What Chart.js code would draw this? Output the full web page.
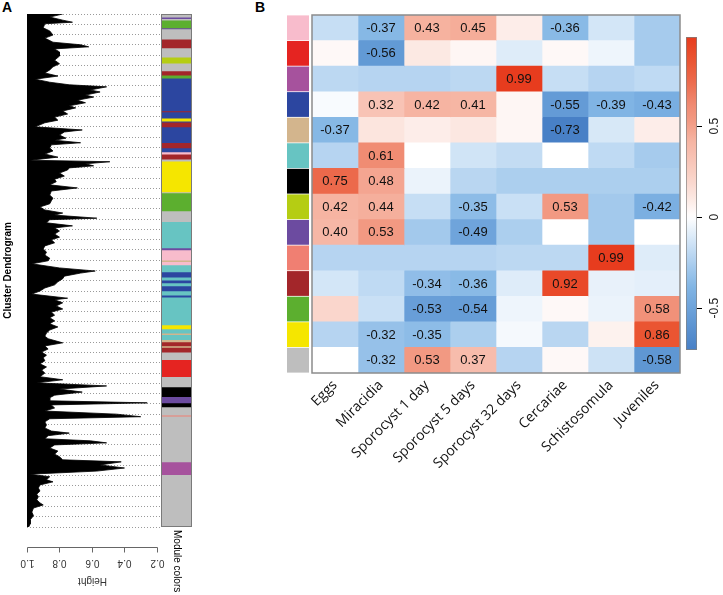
<!DOCTYPE html>
<html><head><meta charset="utf-8"><title>Cluster dendrogram and module-stage correlations</title>
<script src="https://cdn.jsdelivr.net/npm/chart.js"></script>
<style>
html,body{margin:0;padding:0;background:#fff;}
body{width:723px;height:595px;position:relative;overflow:hidden;font-family:"Liberation Sans",Arial,sans-serif;}
canvas{position:absolute;}
.plabel{position:absolute;font-weight:bold;font-size:14px;line-height:14px;color:#000;}
</style></head><body>
<div class="plabel" style="left:2px;top:0px">A</div>
<div class="plabel" style="left:255px;top:0px">B</div>
<canvas id="dendro" width="200" height="595" style="left:0;top:0"></canvas>
<canvas id="modbar" width="50" height="595" style="left:150px;top:0"></canvas>
<canvas id="swatch" width="40" height="400" style="left:280px;top:0"></canvas>
<canvas id="heat" width="440" height="595" style="left:250px;top:0"></canvas>
<canvas id="legend" width="47" height="595" style="left:676px;top:0"></canvas>
<script>
// ---------------- DATA ----------------
// Panel A: dendrogram silhouette (leaf order position 0..1000, branch height)
const dendroLeaf = [
  0,6,12,16,19,27,33,41,47,55,
  60,64,68,74,82,90,97,103,109,115,
  121,127,133,138,142,148,152,158,162,168,
  173,179,183,189,195,201,207,212,220,
  226,230,236,242,246,251,255,261,267,273,
  279,285,288,292,296,300,304,310,316,322,
  327,333,339,345,353,359,364,370,376,382,
  388,392,398,401,407,413,417,423,429,435,
  440,446,452,458,464,470,476,481,487,495,
  501,505,511,516,522,528,534,540,546,554,
  557,563,569,575,581,587,592,598,604,610,
  616,622,628,633,641,647,653,659,665,670,
  676,682,688,694,700,707,713,719,725,731,
  737,743,748,754,758,762,768,774,780,785,
  789,795,801,807,813,817,822,828,832,836,
  840,846,852,858,863,869,873,879,885,891,
  897,902,908,912,918,924,930,936,941,947,
  953,957,963,971,978,986,994,1000];
const dendroHeight = [
  0.78,0.86,0.78,0.72,0.89,0.90,0.86,0.84,0.89,0.84,
  0.67,0.62,0.83,0.80,0.80,0.83,0.80,0.84,0.86,0.89,
  0.81,0.95,0.86,0.74,0.51,0.61,0.55,0.64,0.59,0.69,
  0.64,0.74,0.70,0.78,0.75,0.83,0.81,0.89,0.95,
  0.66,0.77,0.80,0.76,0.83,0.67,0.85,0.86,0.84,0.89,
  0.81,0.98,0.49,0.64,0.59,0.74,0.75,0.80,0.77,0.83,
  0.82,0.86,0.69,0.85,0.86,0.84,0.85,0.86,0.92,0.89,
  0.78,0.83,0.57,0.86,0.88,0.72,0.83,0.80,0.83,0.80,
  0.85,0.83,0.89,0.90,0.88,0.89,0.86,0.87,0.97,0.80,
  0.58,0.67,0.77,0.78,0.81,0.83,0.89,0.92,0.97,0.75,
  0.83,0.78,0.82,0.78,0.85,0.83,0.86,0.83,0.86,0.81,
  0.86,0.88,0.89,0.87,0.78,0.89,0.87,0.91,0.88,0.90,
  0.89,0.92,0.88,0.91,0.89,0.92,0.78,0.94,0.51,0.80,
  0.66,0.83,0.86,0.86,0.26,0.85,0.83,0.89,0.45,0.30,
  0.86,0.89,0.88,0.89,0.85,0.74,0.87,0.89,0.61,0.51,
  0.83,0.86,0.81,0.83,0.80,0.78,0.42,0.55,0.40,0.57,
  0.98,0.86,0.88,0.84,0.92,0.93,0.92,0.94,0.93,0.94,
  0.92,0.90,0.96,0.97,0.96,0.98,0.98,0.99];
const heightTicks = [1.0, 0.8, 0.6, 0.4, 0.2];

// Panel A: module colour strip (segments along leaf order)
const colorBarModule = ['grey','purple','grey','green','purple','grey','brown','grey','greenyellow','grey',
  'brown','green','blue','brown','blue','yellow','blue','brown','blue','brown',
  'blue','pink','brown','grey','yellow','grey','green','grey','turquoise','purple',
  'pink','tan','pink','turquoise','blue','turquoise','blue','turquoise','blue','turquoise',
  'blue','turquoise','yellow','turquoise','tan','turquoise','tan','brown','tan','brown',
  'grey','red','grey','black','purple','black','grey','salmon','grey','magenta','grey'];
const colorBarStart = [0,6,9,12,27,29,49,66,84,96,
  111,119,125,189,191,203,209,211,220,251,
  261,269,273,283,287,347,349,384,405,456,
  460,480,483,489,503,513,519,524,530,540,
  548,552,606,614,622,625,635,639,647,650,
  659,674,707,727,746,758,766,782,784,873,898];
const colorBarEnd = [6,9,12,27,29,49,66,84,96,111,
  119,125,189,191,203,209,211,220,251,261,
  269,273,283,287,347,349,384,405,456,460,
  480,483,489,503,513,519,524,530,540,548,
  552,606,614,622,625,635,639,647,650,659,
  674,707,727,746,758,766,782,784,873,898,1000];

// Panel B: module-stage correlations
const samples = ['Eggs','Miracidia','Sporocyst 1 day','Sporocyst 5 days','Sporocyst 32 days','Cercariae','Schistosomula','Juveniles'];
const modules = ['pink','red','magenta','blue','tan','turquoise','black','greenyellow','purple','salmon','brown','green','yellow','grey'];
const corrPink        = [-0.17,-0.37, 0.43, 0.45, 0.08,-0.36,-0.13,-0.27];
const corrRed         = [ 0.03,-0.56, 0.10, 0.04,-0.10, 0.03,-0.05,-0.27];
const corrMagenta     = [-0.20,-0.22,-0.22,-0.20, 0.99,-0.17,-0.22,-0.19];
const corrBlue        = [-0.02, 0.32, 0.42, 0.41, 0.04,-0.55,-0.39,-0.43];
const corrTan         = [-0.37, 0.12, 0.08, 0.11, 0.04,-0.73,-0.12, 0.08];
const corrTurquoise   = [-0.22, 0.61, 0.00,-0.14,-0.18, 0.00,-0.19,-0.27];
const corrBlack       = [ 0.75, 0.48,-0.06,-0.21,-0.25,-0.25,-0.25,-0.25];
const corrGreenyellow = [ 0.42, 0.44,-0.17,-0.35,-0.16, 0.53,-0.28,-0.42];
const corrPurple      = [ 0.40, 0.53,-0.28,-0.49,-0.25, 0.00,-0.28, 0.00];
const corrSalmon      = [-0.22,-0.22,-0.22,-0.22,-0.20,-0.20, 0.99,-0.10];
const corrBrown       = [-0.13,-0.19,-0.34,-0.36,-0.10, 0.92,-0.07,-0.08];
const corrGreen       = [ 0.20,-0.16,-0.53,-0.54,-0.05, 0.03,-0.06, 0.58];
const corrYellow      = [-0.22,-0.32,-0.35,-0.25,-0.03,-0.21, 0.06, 0.86];
const corrGrey        = [ 0.00,-0.32, 0.53, 0.37,-0.22, 0.03,-0.15,-0.58];
const legendTicks = [-0.5, 0, 0.5];

const corrRows = [corrPink,corrRed,corrMagenta,corrBlue,corrTan,corrTurquoise,corrBlack,
  corrGreenyellow,corrPurple,corrSalmon,corrBrown,corrGreen,corrYellow,corrGrey];

// ---------------- STYLE ----------------
const moduleHex = {grey:'#BEBEBE',purple:'#6C4BA0',green:'#5CAF2F',brown:'#A3262A',greenyellow:'#B5CD13',
  blue:'#2C46A0',yellow:'#F5E600',pink:'#F8BCCC',turquoise:'#67C4C2',tan:'#D3B58D',red:'#E52421',
  black:'#000000',salmon:'#F07F72',magenta:'#A6529D'};
const negStops = [[0,[255,255,255]],[0.2,[188,216,242]],[0.39,[128,180,228]],[0.55,[100,155,214]],[0.73,[72,128,198]],[1,[40,95,180]]];
const posStops = [[0,[255,255,255]],[0.1,[252,233,227]],[0.2,[250,214,204]],[0.42,[246,180,162]],[0.53,[242,153,130]],[0.61,[240,140,115]],[0.75,[236,105,75]],[0.86,[234,85,50]],[1,[231,58,28]]];
function colorFor(v){
  const stops = v < 0 ? negStops : posStops;
  const a = Math.abs(v);
  for (let k = 1; k < stops.length; k++){
    if (a <= stops[k][0]){
      const a0 = stops[k-1][0], c0 = stops[k-1][1], a1 = stops[k][0], c1 = stops[k][1];
      const t = (a - a0) / (a1 - a0);
      return 'rgb(' + c0.map((c,i)=>Math.round(c + (c1[i]-c)*t)).join(',') + ')';
    }
  }
  return 'rgb(' + stops[stops.length-1][1].join(',') + ')';
}

const FONT = '"Liberation Sans", Arial, Helvetica, sans-serif';
Chart.defaults.font.family = FONT;
Chart.defaults.color = '#000';
Chart.defaults.animation = false;
Chart.defaults.responsive = false;
Chart.defaults.plugins.legend.display = false;
Chart.defaults.plugins.tooltip.enabled = false;

// ---------------- PANEL A: dendrogram ----------------
const heightAxis = {
  id: 'heightAxis',
  afterDraw(chart){
    const {ctx, chartArea, scales:{x}} = chart;
    const y0 = Math.round(chartArea.bottom + 20) + 0.5;
    const xs = heightTicks.map(v => Math.round(x.getPixelForValue(v)) + 0.5);
    ctx.save();
    ctx.strokeStyle = '#666'; ctx.lineWidth = 1;
    ctx.beginPath();
    ctx.moveTo(Math.min(...xs), y0); ctx.lineTo(Math.max(...xs), y0);
    xs.forEach(px => { ctx.moveTo(px, y0); ctx.lineTo(px, y0 + 5); });
    ctx.stroke();
    ctx.fillStyle = '#333'; ctx.font = '10px ' + FONT;
    ctx.textAlign = 'center'; ctx.textBaseline = 'middle';
    heightTicks.forEach((v,i) => {
      ctx.save(); ctx.translate(xs[i], y0 + 15); ctx.rotate(Math.PI);
      ctx.fillText(v.toFixed(1), 0, 0); ctx.restore();
    });
    ctx.save(); ctx.translate((xs[0] + xs[xs.length-1]) / 2, y0 + 33); ctx.rotate(Math.PI);
    ctx.fillText('Height', 0, 0); ctx.restore();
    ctx.restore();
  }
};
new Chart(document.getElementById('dendro'), {
  type: 'line',
  data: { datasets: [{
    data: dendroLeaf.map((p,i) => ({x: dendroHeight[i], y: p})),
    borderColor: '#000', borderWidth: 0.8, backgroundColor: '#000',
    fill: {value: 1.0}, pointRadius: 0, tension: 0
  }]},
  options: {
    indexAxis: 'y',
    layout: {padding: {left: 0, right: 39, top: 14, bottom: 68}},
    plugins: {title: {display: true, text: 'Cluster Dendrogram', position: 'left',
      font: {size: 10, weight: 'bold'}, color: '#000', padding: {top: 2, bottom: 13}}},
    scales: {
      x: {type: 'linear', min: 0.175, max: 1.0, reverse: true, display: false},
      y: {type: 'linear', min: 0, max: 1000, reverse: true,
          ticks: {display: false, stepSize: 20},
          grid: {color: '#9a9a9a', lineWidth: 1, drawTicks: false},
          border: {display: false, dash: [1, 2]},
          afterFit(s){ s.width = 0; }}
    }
  },
  plugins: [heightAxis]
});

// ---------------- PANEL A: module colour strip ----------------
new Chart(document.getElementById('modbar'), {
  type: 'bar',
  data: { labels: ['Module colors'], datasets: colorBarModule.map((m,i) => ({
    data: [[colorBarStart[i], colorBarEnd[i]]], backgroundColor: moduleHex[m],
    borderWidth: 0, grouped: false, barPercentage: 1, categoryPercentage: 1 }))},
  options: {
    layout: {padding: {left: 11, right: 8, top: 14, bottom: 68}},
    scales: {x: {display: false}, y: {display: false, min: 0, max: 1000, reverse: true}}
  },
  plugins: [{ id: 'modFrame', afterDatasetsDraw(chart){
    const {ctx, chartArea: a} = chart;
    ctx.save();
    ctx.strokeStyle = '#7a7a7a'; ctx.lineWidth = 1;
    ctx.strokeRect(a.left + 0.5, a.top + 0.5, a.width - 1, a.height - 1);
    ctx.fillStyle = '#000'; ctx.font = '10px ' + FONT;
    ctx.translate((a.left + a.right) / 2, a.bottom + 3); ctx.rotate(Math.PI / 2);
    ctx.textAlign = 'left'; ctx.textBaseline = 'middle';
    ctx.fillText('Module colors', 0, 0);
    ctx.restore();
  }}]
});

// ---------------- PANEL B: module swatches ----------------
new Chart(document.getElementById('swatch'), {
  type: 'bar',
  data: { labels: modules, datasets: [{
    data: modules.map(() => 1), backgroundColor: modules.map(m => moduleHex[m]),
    borderWidth: 0, barPercentage: 1, categoryPercentage: 0.97 }]},
  options: {
    indexAxis: 'y',
    layout: {padding: {left: 7, right: 11, top: 15, bottom: 27}},
    scales: {x: {display: false, min: 0, max: 1}, y: {display: false}}
  }
});

// ---------------- PANEL B: heatmap ----------------
const heatText = { id: 'heatText', afterDatasetsDraw(chart){
  const {ctx, chartArea: a} = chart;
  ctx.save();
  ctx.font = '13px ' + FONT; ctx.fillStyle = '#111';
  ctx.textAlign = 'center'; ctx.textBaseline = 'middle';
  chart.data.datasets.forEach((ds, j) => {
    chart.getDatasetMeta(j).data.forEach((bar, i) => {
      const v = corrRows[i][j];
      if (Math.abs(v) >= 0.3){
        const p = bar.getProps(['x','y','base'], true);
        ctx.fillText(v.toFixed(2), (p.x + p.base) / 2, p.y + 0.5);
      }
    });
  });
  ctx.strokeStyle = '#8c8c8c'; ctx.lineWidth = 1.5;
  ctx.strokeRect(a.left, a.top, a.width, a.height);
  ctx.restore();
}};
new Chart(document.getElementById('heat'), {
  type: 'bar',
  data: { labels: modules, datasets: samples.map((s, j) => ({
    label: s, data: modules.map(() => 1),
    backgroundColor: corrRows.map(r => colorFor(r[j])),
    borderWidth: 0, barPercentage: 1, categoryPercentage: 1 }))},
  options: {
    indexAxis: 'y',
    layout: {padding: {left: 62, right: 10, top: 15, bottom: 0}},
    scales: {
      x: {type: 'linear', stacked: true, min: 0, max: 8,
          afterBuildTicks(s){ s.ticks = samples.map((_, j) => ({value: j + 0.5})); },
          ticks: {autoSkip: false, minRotation: 45, maxRotation: 45, padding: -4,
                  font: {family: '"Open Sans", "Liberation Sans", sans-serif', size: 14}, color: '#111',
                  callback: (v, i) => samples[i]},
          grid: {display: false}, border: {display: false},
          afterFit(s){ s.height = 222; }},
      y: {stacked: true, display: false}
    }
  },
  plugins: [heatText]
});

// ---------------- PANEL B: colour key ----------------
const allCorr = corrRows.flat();
const corrMin = Math.min(...allCorr), corrMax = Math.max(...allCorr);
new Chart(document.getElementById('legend'), {
  type: 'bar',
  data: { labels: ['r'], datasets: [{
    data: [[corrMin, corrMax]],
    backgroundColor: (c) => {
      const ch = c.chart;
      if (!ch.chartArea) return '#fff';
      const ys = ch.scales.y;
      const g = ch.ctx.createLinearGradient(0, ys.getPixelForValue(corrMin), 0, ys.getPixelForValue(corrMax));
      for (let k = 0; k <= 60; k++){
        const v = corrMin + (corrMax - corrMin) * k / 60;
        g.addColorStop(k / 60, colorFor(v));
      }
      return g;
    },
    borderColor: '#808080', borderWidth: 1, borderSkipped: false,
    barPercentage: 1, categoryPercentage: 1 }]},
  options: {
    layout: {padding: {left: 10, right: 0, top: 37, bottom: 245}},
    scales: {
      x: {display: false},
      y: {position: 'right', min: corrMin, max: corrMax,
          afterBuildTicks(s){ s.ticks = legendTicks.map(v => ({value: v})); },
          ticks: {minRotation: 90, maxRotation: 90, crossAlign: 'center', padding: 2,
                  font: {size: 12}, color: '#222', callback: (v) => v === 0 ? '0' : String(v)},
          grid: {drawOnChartArea: false, drawTicks: true, tickLength: 5, color: '#000'},
          border: {display: false},
          afterFit(s){ s.width = 26; }}
    }
  }
});
</script>
</body></html>
